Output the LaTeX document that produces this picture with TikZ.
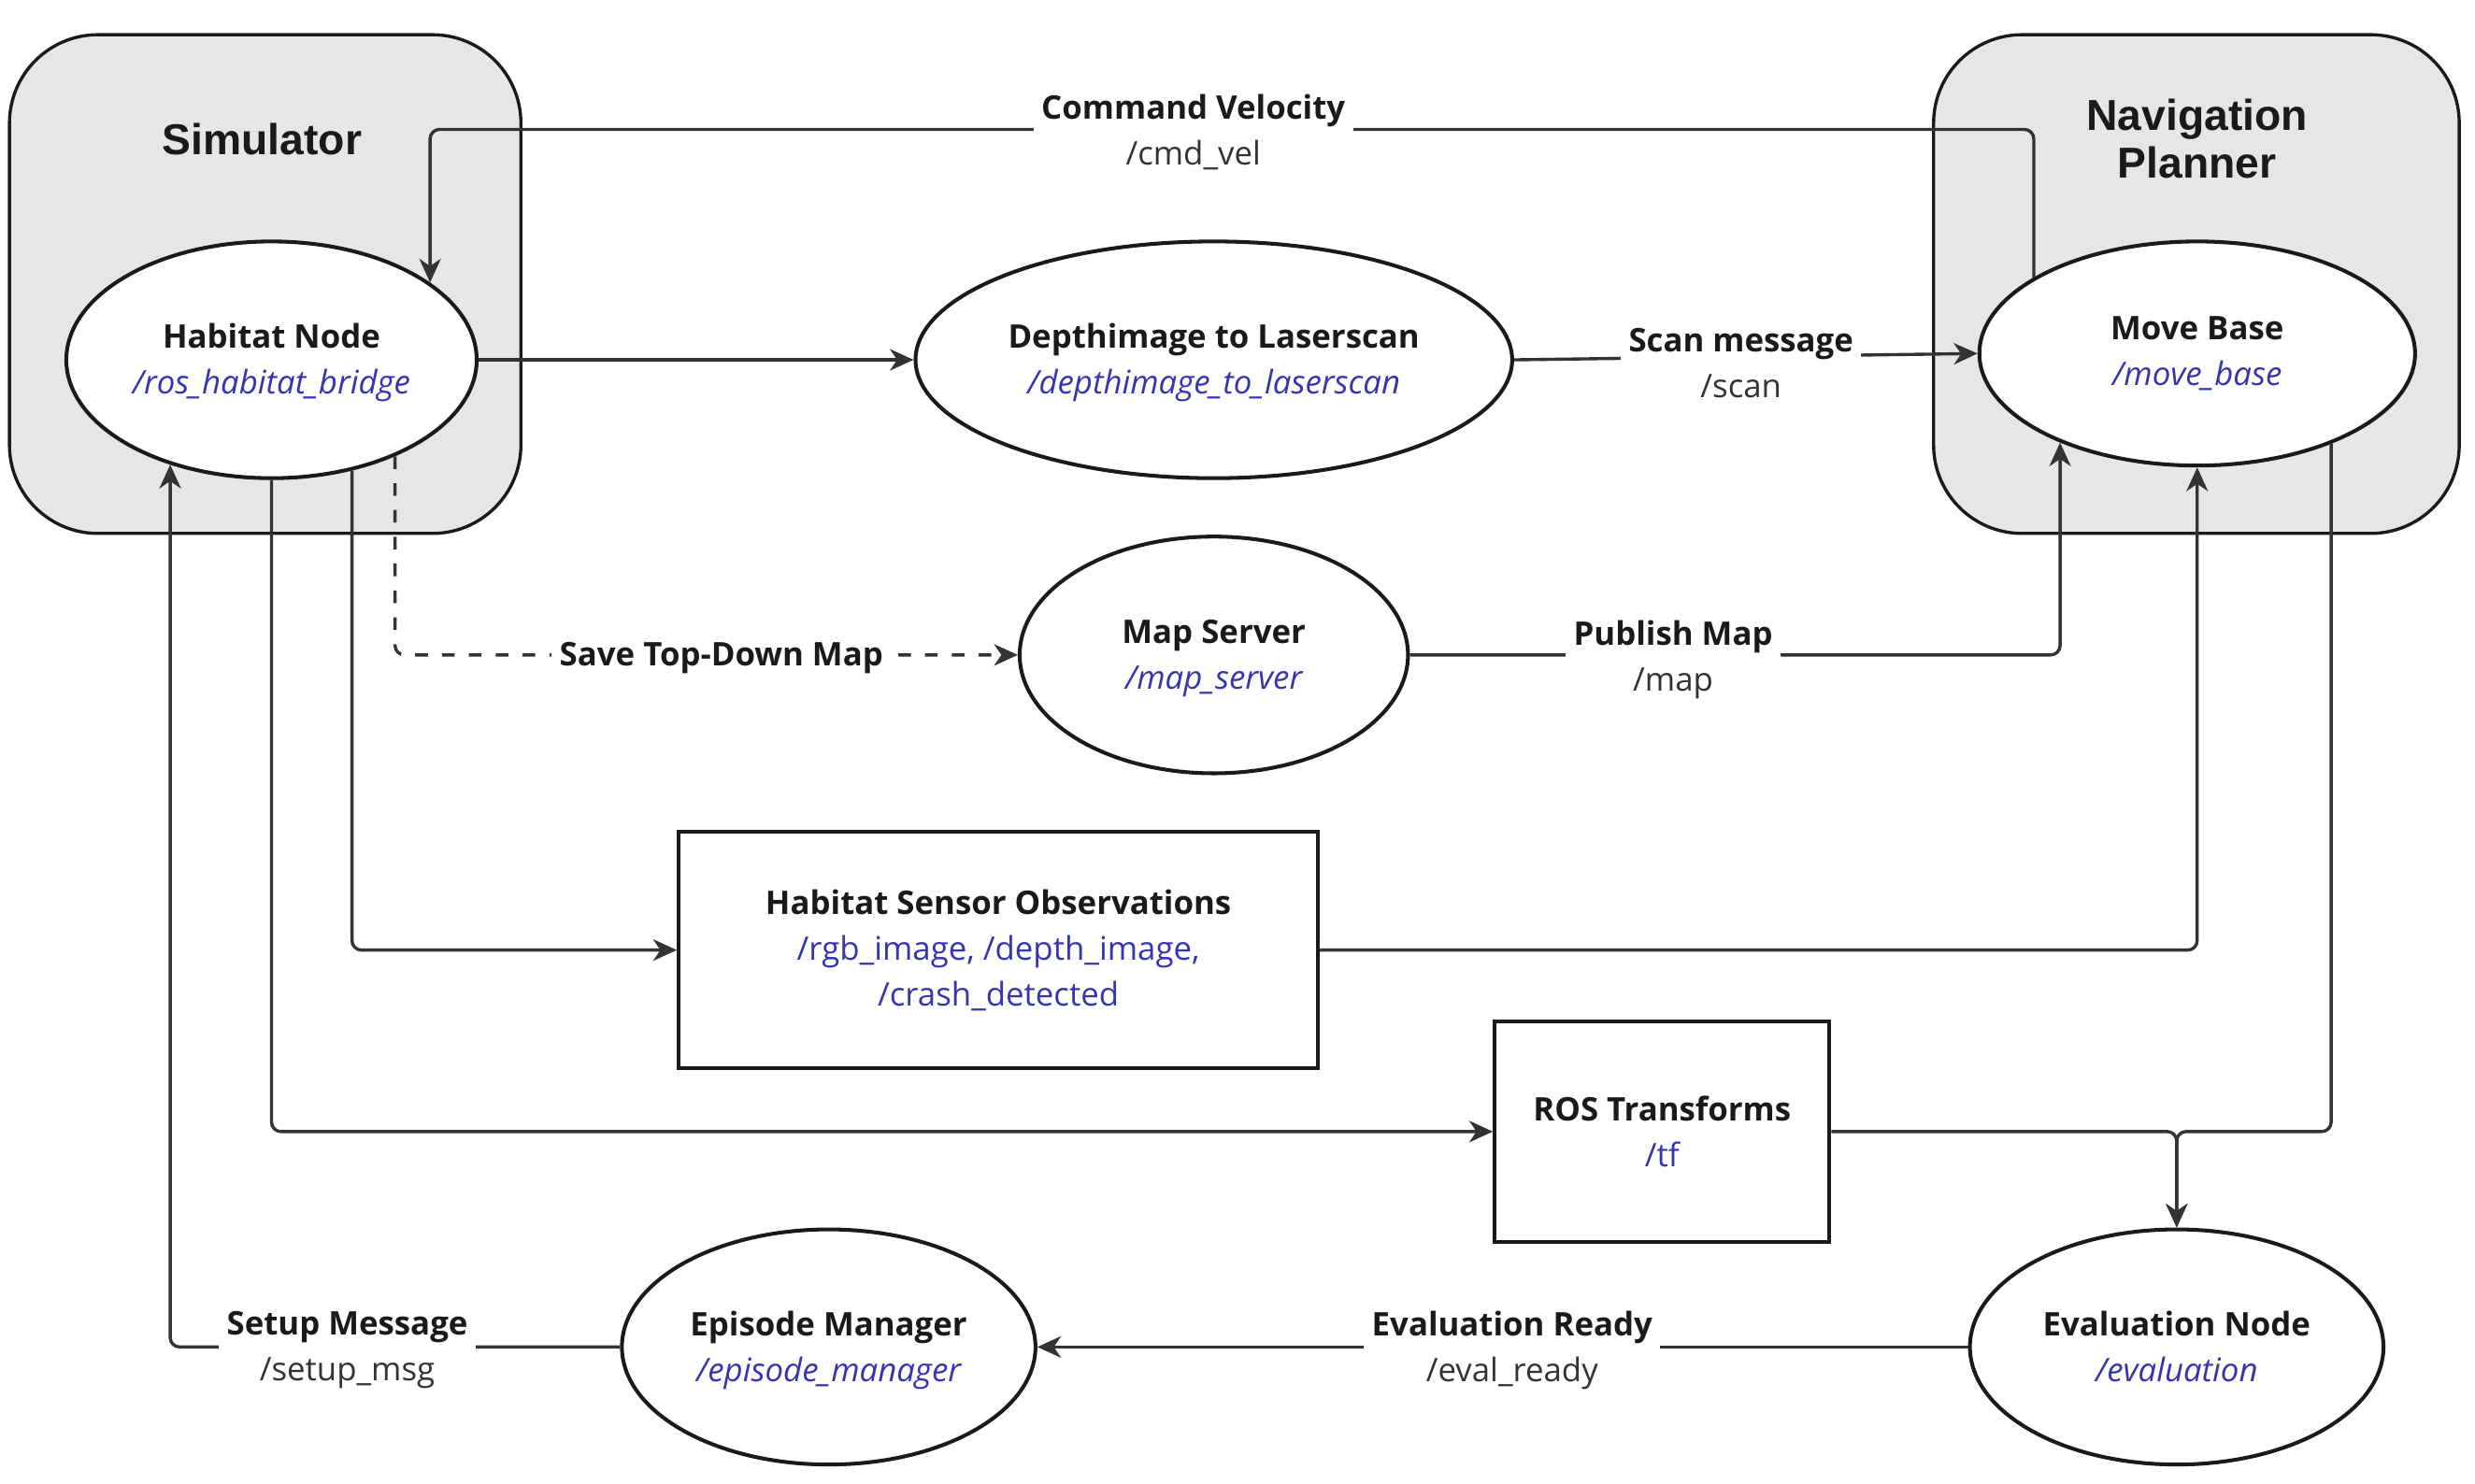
\documentclass[tikz,border=0pt]{standalone}
\usepackage{fontspec}
\setmainfont{Open Sans}
\newfontfamily\titlefont{Liberation Sans}
\usetikzlibrary{shapes.geometric,arrows.meta}
\definecolor{boxgray}{HTML}{E6E6E6}
\definecolor{linec}{HTML}{333333}
\definecolor{topicblue}{HTML}{3535B0}
\definecolor{txt}{HTML}{1A1A1A}
\newcommand{\nstrut}{\rule{0pt}{9.8pt}}
\begin{document}
\begin{tikzpicture}[x=0.5pt,y=-0.5pt,
  every node/.style={font=\fontsize{10.3}{14.5}\selectfont, text=txt},
  container/.style={rectangle,draw=txt,line width=1pt,fill=boxgray,rounded corners=28pt},
  rosnode/.style={ellipse,draw=txt,line width=1.2pt,fill=white,inner sep=0pt,align=center},
  topicbox/.style={rectangle,draw=txt,line width=1.2pt,fill=white,inner sep=0pt,align=center},
  conn/.style={draw=linec,line width=1pt,rounded corners=3pt,-{Stealth[length=7.5pt,width=6.8pt,inset=2.3pt]}},
  dashconn/.style={conn,dash pattern=on 4pt off 4.5pt},
  lab/.style={fill=white,inner sep=2.5pt,align=center,text=txt,yshift=-1pt},
  title/.style={font=\titlefont\bfseries\fontsize{13.7}{15}\selectfont,align=center,text=txt}
]
\useasboundingbox (0,0) rectangle (1568,940);

% containers
\node[container,minimum width=162pt,minimum height=158pt] (sim) at (168,180) {};
\node[container,minimum width=166.5pt,minimum height=158pt] (nav) at (1391.5,180) {};
\node[title] (simtitle) at (166,88) {Simulator};
\node[title] (navtitle) at (1392,88) {Navigation\\Planner};

% ROS nodes
\node[rosnode,minimum width=130pt,minimum height=75pt] (hab) at (172,228)
  {\nstrut\bfseries Habitat Node\\{\color{topicblue}\itshape /ros\_habitat\_bridge}};
\node[rosnode,minimum width=189pt,minimum height=75pt] (depth) at (769,228)
  {\nstrut\bfseries Depthimage to Laserscan\\{\color{topicblue}\itshape /depthimage\_to\_laserscan}};
\node[rosnode,minimum width=138pt,minimum height=71pt] (mb) at (1392,224)
  {\bfseries Move Base\\{\color{topicblue}\itshape /move\_base}};
\node[rosnode,minimum width=123pt,minimum height=75pt] (map) at (769,415)
  {\nstrut\bfseries Map Server\\{\color{topicblue}\itshape /map\_server}};
\node[topicbox,minimum width=202.5pt,minimum height=75pt] (hso) at (632.5,602)
  {\bfseries Habitat Sensor Observations\\{\color{topicblue}/rgb\_image, /depth\_image,}\\{\color{topicblue}/crash\_detected}};
\node[topicbox,minimum width=106pt,minimum height=70pt] (ros) at (1053,717)
  {\bfseries ROS Transforms\\{\color{topicblue}/tf}};
\node[rosnode,minimum width=131pt,minimum height=74.5pt] (ep) at (525,853.5)
  {\nstrut\bfseries Episode Manager\\{\color{topicblue}\itshape /episode\_manager}};
\node[rosnode,minimum width=131pt,minimum height=74.5pt] (eval) at (1379,853.5)
  {\bfseries Evaluation Node\\{\color{topicblue}\itshape /evaluation}};

% label anchors
\coordinate (cvpos) at (756,82);

% connectors
\draw[conn] (mb.155.8) |- (cvpos) -| (hab.26.1);
\draw[conn] (hab.east) -- (depth.west);
\draw[conn] (depth.east) -- (mb.west);
\draw[dashconn] (hab.-38.1) |- (map.west);
\draw[conn] (map.east) -| (mb.213.8);
\draw[conn] (hab.-54.1) |- (hso.west);
\draw[conn] (hso.east) -| (mb.south);
\draw[conn] (hab.south) |- (ros.west);
\draw[conn] (ros.east) -| (eval.north);
\draw[conn] (mb.-34.3) |- (ros.east -| eval.north) -- (eval.north);
\draw[conn] (eval.west) -- (ep.east);
\draw[conn] (ep.west) -| (hab.226.2);

% labels
\node[lab] (cvlab) at (cvpos) {\bfseries Command Velocity\\{\color{linec}/cmd\_vel}};
\node[lab] (scanlab) at (1103,228) {\bfseries Scan message\\{\color{linec}/scan}};
\node[lab] (savelab) at (457,415) {\bfseries Save Top-Down Map};
\node[lab] (publab) at (1060,416) {\bfseries Publish Map\\{\color{linec}/map}};
\node[lab] (evrlab) at (958,853.5) {\bfseries Evaluation Ready\\{\color{linec}/eval\_ready}};
\node[lab] (setlab) at (220,853.5) {\bfseries Setup Message\\{\color{linec}/setup\_msg}};
\end{tikzpicture}
\end{document}
